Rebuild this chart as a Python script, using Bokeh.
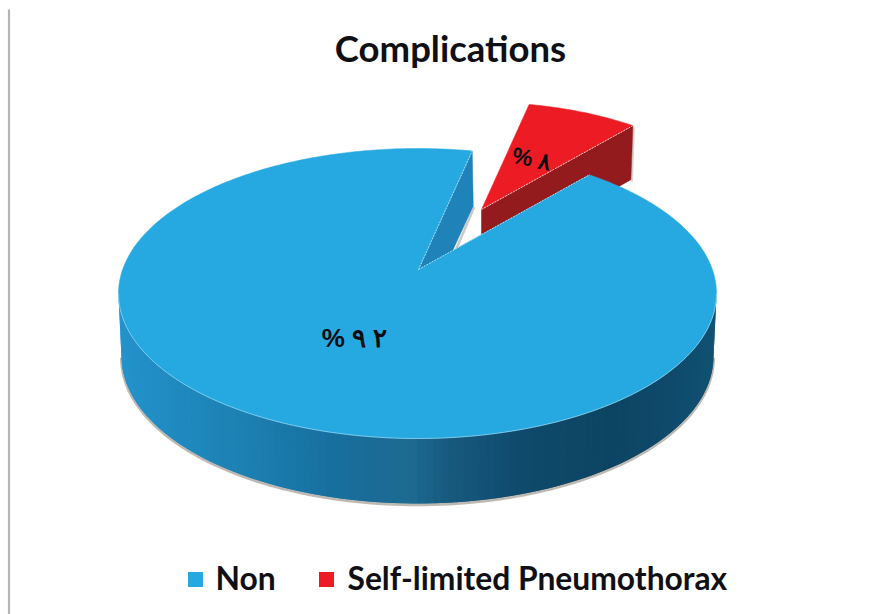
import numpy as np
from bokeh.plotting import figure
from bokeh.embed import file_html
from bokeh.resources import INLINE
from bokeh.core.properties import value

# Chart content
title_text = "Complications"
categories = ["Non", "Self-limited Pneumothorax"]
shares = [92, 8]
share_labels = ["% ۹ ۲", "% ۸"]
top_colors = ["#26A9E1", "#ED1C24"]

# Scene layout of the tilted disc, in page pixels
CX, CY, RX, RY = 417.0, 293.0, 299.0, 145.0     # rim of the top face
BX, BY, BRX, BRY = 417.0, 356.0, 296.0, 147.0   # rim of the bottom face
APEX = np.array([418.0, 269.0])                 # where the slices meet
RED_APEX = np.array([481.0, 209.0])             # pulled-out slice
RED_SCALE = 0.886
START_DEG = 12.4
SQUASH = RY / RX
WALL_NEAR = 55.0

# Shading across the front wall: (x position, colour)
wall_stops = [(118, "#2393CB"), (180, "#1F89BE"), (250, "#1C7FB1"), (330, "#176F9E"),
              (385, "#1B6B95"), (410, "#1D6A91"), (450, "#17597E"), (520, "#0F4A6C"),
              (610, "#0D4462"), (680, "#0F4B6D"), (716, "#105273")]


def hex_rgb(c):
    return np.array([int(c[i:i + 2], 16) for i in (1, 3, 5)], dtype=float)


def wall_colour(x):
    xs = [s[0] for s in wall_stops]
    rgb = [np.interp(x, xs, [hex_rgb(s[1])[k] for s in wall_stops]) for k in range(3)]
    return "#%02x%02x%02x" % tuple(int(round(v)) for v in rgb)


def rim_point(deg):
    """Where a ray from the apex, clockwise from straight up, meets the top rim."""
    a = np.radians(deg)
    d = np.array([np.sin(a), -np.cos(a) * SQUASH])
    o = (APEX - [CX, CY]) / [RX, RY]
    e = d / [RX, RY]
    qa, qb, qc = e @ e, 2 * o @ e, o @ o - 1
    t = (-qb + np.sqrt(qb * qb - 4 * qa * qc)) / (2 * qa)
    return APEX + t * d


total = sum(shares)
red_sweep = 360.0 * shares[1] / total
blue_sweep = 360.0 * shares[0] / total
red_from, red_to = START_DEG, START_DEG + red_sweep
blue_from, blue_to = red_to, red_to + blue_sweep

p = figure(width=880, height=614, x_range=(0, 880), y_range=(614, 0),
           output_backend="svg", toolbar_location=None, min_border=0,
           background_fill_color="white", border_fill_color="white")
p.axis.visible = False
p.grid.visible = False
p.outline_line_color = None

# Rule along the left of the page
p.segment(x0=[8.5], y0=[9], x1=[8.5], y1=[614], line_color="#B5B5B5", line_width=2.2)

# Pulled-out slice: cut wall, then top face
red_arc = np.array([RED_APEX + RED_SCALE * (rim_point(d) - APEX)
                    for d in np.linspace(red_from, red_to, 30)])
r_end = red_arc[-1]
p.line([r_end[0] + 1, r_end[0] - 1], [r_end[1] + 2, r_end[1] + 56],
       line_color="#BDB8B0", line_width=2, line_alpha=0.6)
p.patch([RED_APEX[0], r_end[0], r_end[0] - 2, RED_APEX[0]],
        [RED_APEX[1], r_end[1], r_end[1] + 54, RED_APEX[1] + 55],
        fill_color="#931A1D", line_color="#931A1D", line_width=0.5)
p.patch([RED_APEX[0], *red_arc[:, 0]], [RED_APEX[1], *red_arc[:, 1]],
        fill_color=top_colors[1], line_color=top_colors[1], line_width=0.5)
p.line([RED_APEX[0], r_end[0]], [RED_APEX[1], r_end[1]],
       line_color="#F8C8C4", line_width=1, line_dash="2 1")

# Large slice: cut wall on the far side of the gap
corner = rim_point(blue_to)
p.line([corner[0] + 2, APEX[0] + 38], [corner[1] + 56, APEX[1] - 21],
       line_color="#B8B4AC", line_width=2.5, line_alpha=0.7)
p.patch([APEX[0], corner[0], corner[0] + 1, APEX[0]],
        [APEX[1], corner[1], corner[1] + WALL_NEAR, APEX[1] + WALL_NEAR],
        fill_color="#1F82B8", line_color="#1F82B8", line_width=0.5)

# Front wall as overlapping shaded strips, with a soft edge below
phi = np.linspace(0, np.pi, 121)
top_x, top_y = CX + RX * np.cos(phi), CY + RY * np.sin(phi)
low_x, low_y = BX + BRX * np.cos(phi), BY + BRY * np.sin(phi)
p.line(low_x, low_y + 1.2, line_color="#A8A298", line_width=3, line_alpha=0.75)
xs, ys, cs = [], [], []
for i in range(len(phi) - 1):
    j = min(i + 2, len(phi) - 1)
    xs.append([top_x[i], top_x[j], low_x[j], low_x[i]])
    ys.append([top_y[i], top_y[j], low_y[j], low_y[i]])
    cs.append(wall_colour((top_x[i] + top_x[i + 1]) / 2))
p.patches(xs, ys, fill_color=cs, line_color=None)

# Top face of the large slice
blue_arc = np.array([rim_point(d) for d in np.linspace(blue_from, blue_to, 360)])
p.patch([APEX[0], *blue_arc[:, 0]], [APEX[1], *blue_arc[:, 1]],
        fill_color=top_colors[0], line_color=top_colors[0], line_width=0.5)
p.line([APEX[0], corner[0]], [APEX[1], corner[1]],
       line_color="#A9DDF3", line_width=1, line_dash="2 1")
p.line([APEX[0], blue_arc[0, 0]], [APEX[1], blue_arc[0, 1]],
       line_color="#A9DDF3", line_width=1, line_dash="2 1")
p.line(top_x, top_y, line_color="#A9DDF3", line_width=0.8, line_alpha=0.8)

# Share labels on the top faces
p.text([354], [337], text=[share_labels[0]], text_font=value("Liberation Sans"),
       text_font_size="26px", text_font_style="bold", text_color="#0B0B12",
       text_align="center", text_baseline="middle")
p.text([531], [158], text=[share_labels[1]], text_font=value("Liberation Sans"),
       text_font_size="23px", text_font_style="bold", text_color="#0B0B12",
       text_align="center", text_baseline="middle", angle=[-0.2])

# Title
p.text([450], [47], text=[title_text], text_font=value("Lato"), text_font_size="36.5px",
       text_font_style="bold", text_color="#101014", text_align="center",
       text_baseline="middle")

# Legend
legend_box_x = [195, 326]
legend_text_x = [215, 347]
p.rect(legend_box_x, [579, 579], width=15, height=15, fill_color=top_colors,
       line_color=None)
p.text(legend_text_x, [577, 577], text=categories, text_font=value("Lato"),
       text_font_size="31.8px", text_font_style="bold", text_color="#101014",
       text_align="left", text_baseline="middle")

open("out.html", "w").write(file_html(p, INLINE))
